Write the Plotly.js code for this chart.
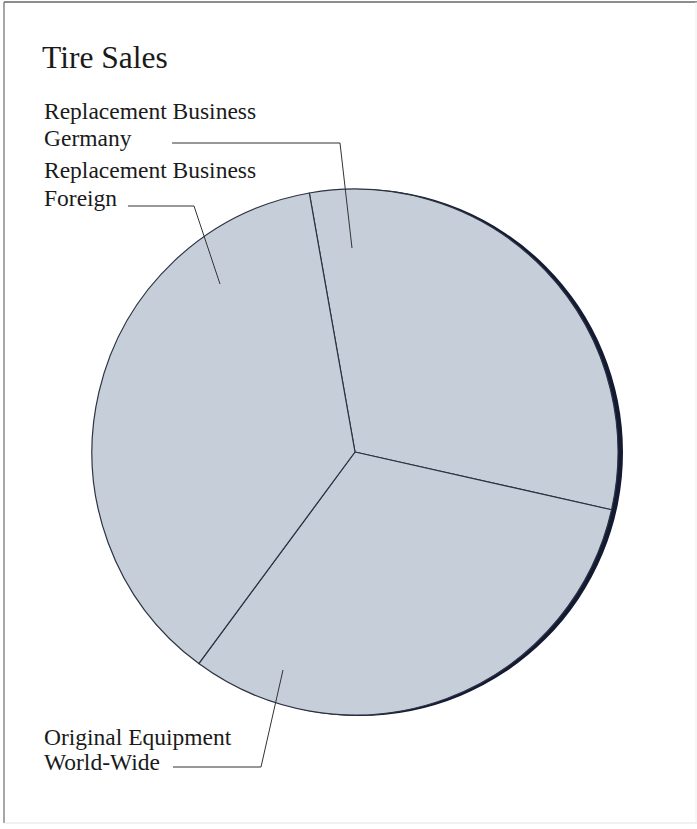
<!DOCTYPE html>
<html>
<head>
<meta charset="utf-8">
<script src="https://cdn.plot.ly/plotly-3.0.1.min.js"></script>
<style>html,body{margin:0;padding:0;background:#fff;}#chart{width:697px;height:829px;}</style>
</head>
<body>
<div id="chart"></div>
<script>
// Data (share of tire sales, %)
const categories = ["Replacement Business Germany", "Original Equipment World-Wide", "Replacement Business Foreign"];
const labelLines = [["Replacement Business", "Germany"], ["Original Equipment", "World-Wide"], ["Replacement Business", "Foreign"]];
const shares = [31.3, 31.6, 37.1];
const chartTitle = "Tire Sales";

const serif = "Liberation Serif, Times New Roman, serif";
const W = 697, H = 829;
const px = x => x / W;
const py = y => 1 - y / H;

const pie = {
  type: "pie",
  labels: categories,
  values: shares,
  sort: false,
  direction: "clockwise",
  rotation: -10,
  textinfo: "none",
  hoverinfo: "label+percent",
  showlegend: false,
  marker: { colors: ["#c6cfd9", "#c6cfd9", "#c6cfd9"], line: { color: "#2b3242", width: 1.2 } },
  domain: { x: [px(92), px(618)], y: [py(715), py(189)] }
};

const lineStyle = { color: "#333", width: 1 };
const shapes = [
  // frame
  { type: "line", xref: "paper", yref: "paper", x0: px(4), x1: px(4), y0: py(2), y1: py(823), line: { color: "#888", width: 1.5 } },
  { type: "line", xref: "paper", yref: "paper", x0: px(4), x1: px(697), y0: py(2), y1: py(2), line: { color: "#666", width: 1.5 } },
  { type: "line", xref: "paper", yref: "paper", x0: px(4), x1: px(697), y0: py(823), y1: py(823), line: { color: "#e4e4e4", width: 1 } },
  { type: "line", xref: "paper", yref: "paper", x0: px(696), x1: px(696), y0: py(2), y1: py(823), line: { color: "#eeeeee", width: 1 } },
  // shadow behind the pie
  { type: "circle", layer: "below", xref: "paper", yref: "paper", x0: px(96), x1: px(623), y0: py(716), y1: py(189), fillcolor: "#151a33", line: { width: 0 } },
  // leader lines
  { type: "path", xref: "paper", yref: "paper", path: `M ${px(172)} ${py(143)} L ${px(340)} ${py(143)} L ${px(352)} ${py(248)}`, line: lineStyle },
  { type: "path", xref: "paper", yref: "paper", path: `M ${px(128)} ${py(206)} L ${px(194)} ${py(206)} L ${px(220)} ${py(284)}`, line: lineStyle },
  { type: "path", xref: "paper", yref: "paper", path: `M ${px(173)} ${py(767)} L ${px(261)} ${py(767)} L ${px(283)} ${py(670)}`, line: lineStyle }
];

const labelFont = { family: serif, size: 23.5, color: "#1a1a1a" };
// baselines (px from top) of each label line
const baselines = [[119, 145], [744, 769], [178, 205]];
const annotations = [];
labelLines.forEach((lines, i) => {
  lines.forEach((t, j) => {
    annotations.push({ text: t, x: px(43), y: py(baselines[i][j] - 21.5), xref: "paper", yref: "paper",
      xanchor: "left", yanchor: "top", align: "left", showarrow: false, font: labelFont, borderpad: 0 });
  });
});

const layout = {
  width: W, height: H,
  margin: { l: 0, r: 0, t: 0, b: 0 },
  paper_bgcolor: "#ffffff",
  title: { text: chartTitle, x: px(42), xanchor: "left", y: py(57), yanchor: "middle", font: { family: serif, size: 31.5, color: "#1a1a1a" } },
  shapes: shapes,
  annotations: annotations
};

Plotly.newPlot("chart", [pie], layout, { displayModeBar: false, staticPlot: true });
</script>
</body>
</html>
